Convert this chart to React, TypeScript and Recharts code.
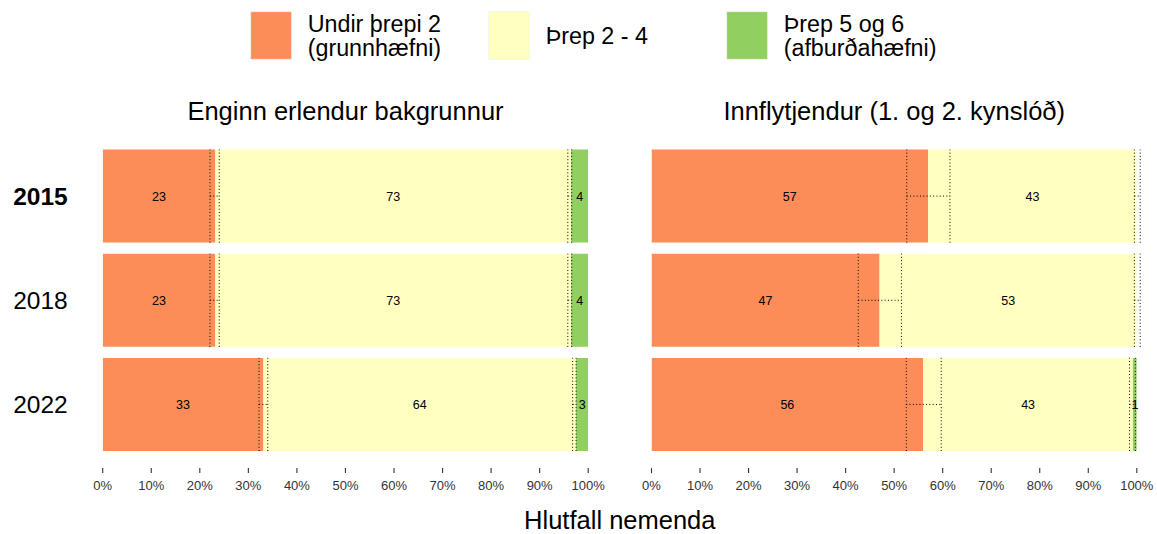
import { BarChart, Bar, XAxis, YAxis, ErrorBar, LabelList } from "recharts";

const FONT = '"Liberation Sans", Arial, Helvetica, sans-serif';

const years = ["2015", "2018", "2022"];
const levelNames = [["Undir þrepi 2", "(grunnhæfni)"], ["Þrep 2 - 4"], ["Þrep 5 og 6", "(afburðahæfni)"]];
const levelColors = ["#fc8d59", "#ffffbf", "#91cf60"];
const panelTitles = ["Enginn erlendur bakgrunnur", "Innflytjendur (1. og 2. kynslóð)"];
const xTicks = [0, 10, 20, 30, 40, 50, 60, 70, 80, 90, 100];

// Enginn erlendur bakgrunnur (%)
const nativeBelow2 = [23.2, 23.2, 33.1];
const nativeLevel2to4 = [73.3, 73.3, 64.4];
const nativeLevel5to6 = [3.5, 3.5, 2.5];
// óvissubil á skilunum (neðri/efri mörk)
const nativeCut1CI = [[22.1, 24.0], [22.1, 24.0], [32.2, 34.0]];
const nativeCut2CI = [[95.8, 96.6], [95.8, 96.6], [96.8, 97.5]];

// Innflytjendur (%)
const immBelow2 = [57.0, 47.0, 56.0];
const immLevel2to4 = [43.0, 53.0, 43.2];
const immLevel5to6 = [0, 0, 0.8];
const immCut1CI = [[52.6, 61.5], [42.6, 51.5], [52.5, 59.7]];
const immCut2CI = [[99.5, 100.7], [99.5, 100.7], [98.5, 99.7]];

function buildRows(below: number[], mid: number[], top: number[], ci1: number[][], ci2: number[][]) {
  return years.map((year, i) => ({
    year,
    below: below[i],
    mid: mid[i],
    top: top[i],
    ci1: ci1[i],
    ci2: ci2[i],
  }));
}

const nativeRows = buildRows(nativeBelow2, nativeLevel2to4, nativeLevel5to6, nativeCut1CI, nativeCut2CI);
const immRows = buildRows(immBelow2, immLevel2to4, immLevel5to6, immCut1CI, immCut2CI);

function cut1Err(d: any) {
  const p = d.payload ?? d;
  return [p.below - p.ci1[0], p.ci1[1] - p.below];
}
function cut2Err(d: any) {
  const p = d.payload ?? d;
  const end = p.below + p.mid;
  return [end - p.ci2[0], p.ci2[1] - end];
}

const roundLabel = (v: any) => (Number(v) >= 0.5 ? Math.round(Number(v)) : "");

function PercentTick({ x, y, payload }: any) {
  return (
    <g>
      <line x1={x} x2={x} y1={y + 12} y2={y + 17} stroke="#333" strokeWidth={1.1} />
      <text x={x} y={y + 33.5} textAnchor="middle" fontSize={13} fill="#333" fontFamily={FONT}>
        {payload.value}%
      </text>
    </g>
  );
}

function YearTick({ x, y, payload }: any) {
  return (
    <text
      x={x - 35}
      y={y + 9.4}
      textAnchor="end"
      fontSize={24.5}
      fontWeight={payload.value === "2015" ? "bold" : "normal"}
      fill="#000"
      fontFamily={FONT}
    >
      {payload.value}
    </text>
  );
}

const dotted = { stroke: "#000", strokeWidth: 1, strokeDasharray: "1 2.3" };

function Panel({ data, width, margin, showYears }: any) {
  return (
    <BarChart width={width} height={534} data={data} layout="vertical" margin={margin} barSize={93}>
      <XAxis
        type="number"
        domain={[0, 100]}
        allowDataOverflow
        ticks={xTicks}
        axisLine={false}
        tickLine={false}
        tickSize={0}
        tickMargin={0}
        height={40}
        tick={<PercentTick />}
        interval={0}
      />
      <YAxis
        type="category"
        dataKey="year"
        hide={!showYears}
        width={showYears ? 102.7 : 0}
        axisLine={false}
        tickLine={false}
        tickSize={0}
        tickMargin={0}
        tick={<YearTick />}
      />
      <Bar dataKey="below" stackId="a" fill={levelColors[0]} isAnimationActive={false}>
        <LabelList dataKey="below" position="center" formatter={roundLabel} fill="#000" fontSize={12.5} fontFamily={FONT} />
        <ErrorBar dataKey={cut1Err} direction="x" width={46.6} {...dotted} isAnimationActive={false} />
      </Bar>
      <Bar dataKey="mid" stackId="a" fill={levelColors[1]} isAnimationActive={false}>
        <LabelList dataKey="mid" position="center" formatter={roundLabel} fill="#000" fontSize={12.5} fontFamily={FONT} />
        <ErrorBar dataKey={cut2Err} direction="x" width={46.6} {...dotted} isAnimationActive={false} />
      </Bar>
      <Bar dataKey="top" stackId="a" fill={levelColors[2]} isAnimationActive={false}>
        <LabelList dataKey="top" position="center" formatter={roundLabel} fill="#000" fontSize={12.5} fontFamily={FONT} />
      </Bar>
    </BarChart>
  );
}

const legendX = [250.7, 488.7, 726.7];

export default function App() {
  return (
    <div style={{ position: "absolute", left: 0, top: 0, width: 1157, height: 534, background: "#fff", fontFamily: FONT }}>
      <div style={{ position: "absolute", left: 0, top: 0 }}>
        <Panel data={nativeRows} width={625} showYears margin={{ top: 143.6, right: 36.8, left: 0, bottom: 37.9 }} />
      </div>
      <div style={{ position: "absolute", left: 625, top: 0 }}>
        <Panel data={immRows} width={532} showYears={false} margin={{ top: 143.6, right: 20.2, left: 26.5, bottom: 37.9 }} />
      </div>
      <svg width={1157} height={534} style={{ position: "absolute", left: 0, top: 0, pointerEvents: "none" }}>
        {levelNames.map((lines, i) => (
          <g key={i}>
            <rect x={legendX[i]} y={11.7} width={41} height={47.6} fill={levelColors[i]} stroke="#f2f2f2" strokeWidth={0.8} />
            {lines.length === 1 ? (
              <text x={legendX[i] + 57} y={44} fontSize={23.3} fill="#000" fontFamily={FONT}>
                {lines[0]}
              </text>
            ) : (
              lines.map((t, j) => (
                <text key={j} x={legendX[i] + 57} y={31.7 + j * 24.4} fontSize={23.3} fill="#000" fontFamily={FONT}>
                  {t}
                </text>
              ))
            )}
          </g>
        ))}
        <text x={345.5} y={120} textAnchor="middle" fontSize={25.5} fill="#000" fontFamily={FONT}>
          {panelTitles[0]}
        </text>
        <text x={894.2} y={120} textAnchor="middle" fontSize={25.5} fill="#000" fontFamily={FONT}>
          {panelTitles[1]}
        </text>
        <text x={619.8} y={529} textAnchor="middle" fontSize={25.5} fill="#000" fontFamily={FONT}>
          Hlutfall nemenda
        </text>
      </svg>
    </div>
  );
}
